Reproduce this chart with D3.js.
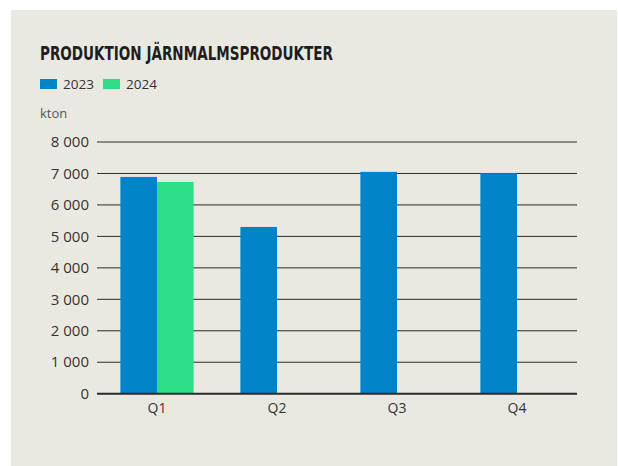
<!DOCTYPE html>
<html>
<head>
<meta charset="utf-8">
<script src="https://cdn.jsdelivr.net/npm/d3@7"></script>
<style>
  html, body { margin: 0; padding: 0; background: #fff; }
  svg { display: block; }
</style>
</head>
<body>
<svg id="chart"></svg>
<script>
// data
const quarters = ["Q1", "Q2", "Q3", "Q4"];
const years    = ["2023", "2024"];
const values2023 = [6890, 5300, 7050, 7010];
const values2024 = [6730, null, null, null];
const yTicks = [0, 1000, 2000, 3000, 4000, 5000, 6000, 7000, 8000];
const colors = ["#0083c8", "#2ede87"];

const W = 618, H = 466;
const font = "'Open Sans', sans-serif";

const svg = d3.select("#chart")
  .attr("width", W)
  .attr("height", H);

// panel
svg.append("rect")
  .attr("x", 11).attr("y", 10)
  .attr("width", 606).attr("height", H - 10)
  .attr("fill", "#eae9e1");

// title (condensed face, squeezed to the reference width)
svg.append("text")
  .attr("x", 40).attr("y", 60)
  .attr("font-family", "'DejaVu Sans Condensed', 'DejaVu Sans', sans-serif")
  .attr("font-stretch", "condensed")
  .attr("font-weight", "bold")
  .attr("font-size", 19)
  .attr("fill", "#1e1e1e")
  .attr("textLength", 293)
  .attr("lengthAdjust", "spacingAndGlyphs")
  .text("PRODUKTION JÄRNMALMSPRODUKTER");

// legend
const legend = svg.append("g").attr("transform", "translate(40,79)");
const li = legend.selectAll("g").data(years).enter()
  .append("g")
    .attr("transform", (d, i) => `translate(${i * 63},0)`);
li.append("rect")
  .attr("width", 17).attr("height", 10)
  .attr("fill", (d, i) => colors[i]);
li.append("text")
  .attr("x", 23).attr("y", 10)
  .attr("font-family", font)
  .attr("font-size", 13.5)
  .attr("fill", "#333")
  .text(d => d);

// unit
svg.append("text")
  .attr("x", 40).attr("y", 118)
  .attr("font-family", font)
  .attr("font-size", 13)
  .attr("fill", "#555")
  .text("kton");

// scales
const x = d3.scaleBand()
  .domain(quarters)
  .range([97, 577])
  .paddingInner(0.39)
  .paddingOuter(0.195);
const xs = d3.scaleBand()
  .domain(years)
  .range([0, x.bandwidth()]);
const y = d3.scaleLinear()
  .domain([0, 8000])
  .range([393.7, 142]);

// gridlines
svg.append("g").selectAll("line")
  .data(yTicks.filter(d => d > 0)).enter()
  .append("line")
    .attr("x1", 97).attr("x2", 577)
    .attr("y1", d => y(d)).attr("y2", d => y(d))
    .attr("stroke", "#2a2a2a")
    .attr("stroke-width", 1);

// y labels
const fmt = d => d3.format(",")(d).replace(",", " ");
svg.append("g").selectAll("text")
  .data(yTicks).enter()
  .append("text")
    .attr("x", 89)
    .attr("y", d => y(d))
    .attr("dy", "0.35em")
    .attr("text-anchor", "end")
    .attr("font-family", font)
    .attr("font-size", 15)
    .attr("fill", "#333")
    .text(fmt);

// bars
const series = [values2023, values2024];
const rows = [];
quarters.forEach((q, qi) => {
  years.forEach((yr, si) => {
    const v = series[si][qi];
    if (v != null) rows.push({ q, yr, v, si });
  });
});
svg.append("g").selectAll("rect")
  .data(rows).enter()
  .append("rect")
    .attr("x", d => x(d.q) + xs(d.yr))
    .attr("width", xs.bandwidth())
    .attr("y", d => y(d.v))
    .attr("height", d => y(0) - y(d.v))
    .attr("fill", d => colors[d.si]);

// baseline
svg.append("line")
  .attr("x1", 97).attr("x2", 577)
  .attr("y1", y(0)).attr("y2", y(0))
  .attr("stroke", "#2a2a2a")
  .attr("stroke-width", 2);

// x labels
svg.append("g").selectAll("text")
  .data(quarters).enter()
  .append("text")
    .attr("x", d => x(d) + x.bandwidth() / 2)
    .attr("y", 413)
    .attr("text-anchor", "middle")
    .attr("font-family", font)
    .attr("font-size", 14)
    .attr("fill", "#333")
    .text(d => d);
</script>
</body>
</html>
